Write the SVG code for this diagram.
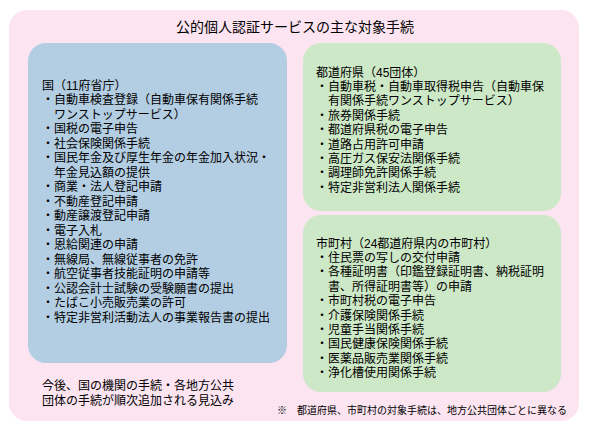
<svg xmlns="http://www.w3.org/2000/svg" width="589" height="432" viewBox="0 0 589 432">
<style>
text{font-family:"Liberation Sans","Noto Sans CJK JP","Noto Sans CJK SC",sans-serif;fill:#000;}
.t{font-size:12px;}
.title{font-size:14px;}
.note{font-size:10px;}
.outer{fill:#FCE4F1;}
.blue{fill:#B3CDE2;}
.green{fill:#CDE8C6;}
</style>
<rect width="589" height="432" fill="#FFFFFF"/>
<g id="outer">
<rect class="outer" x="9" y="10" width="570" height="411" rx="18"/>
<text class="title" x="295" y="32" text-anchor="middle">公的個人認証サービスの主な対象手続</text>
</g>
<g id="kuni">
<rect class="blue" x="28" y="43" width="259" height="320" rx="18"/>
<text class="t" x="42" y="89.5"><tspan x="42" y="89.5">国（11府省庁）</tspan><tspan x="42" dy="14.5">・自動車検査登録（自動車保有関係手続</tspan><tspan x="54" dy="14.5">ワンストップサービス）</tspan><tspan x="42" dy="14.5">・国税の電子申告</tspan><tspan x="42" dy="14.5">・社会保険関係手続</tspan><tspan x="42" dy="14.5">・国民年金及び厚生年金の年金加入状況・</tspan><tspan x="54" dy="14.5">年金見込額の提供</tspan><tspan x="42" dy="14.5">・商業・法人登記申請</tspan><tspan x="42" dy="14.5">・不動産登記申請</tspan><tspan x="42" dy="14.5">・動産譲渡登記申請</tspan><tspan x="42" dy="14.5">・電子入札</tspan><tspan x="42" dy="14.5">・恩給関連の申請</tspan><tspan x="42" dy="14.5">・無線局、無線従事者の免許</tspan><tspan x="42" dy="14.5">・航空従事者技能証明の申請等</tspan><tspan x="42" dy="14.5">・公認会計士試験の受験願書の提出</tspan><tspan x="42" dy="14.5">・たばこ小売販売業の許可</tspan><tspan x="42" dy="14.5">・特定非営利活動法人の事業報告書の提出</tspan></text>
</g>
<g id="todofuken">
<rect class="green" x="303" y="43" width="258" height="168" rx="18"/>
<text class="t" x="316" y="76.5"><tspan x="316" y="76.5">都道府県（45団体）</tspan><tspan x="316" dy="14.4">・自動車税・自動車取得税申告（自動車保</tspan><tspan x="328" dy="14.4">有関係手続ワンストップサービス）</tspan><tspan x="316" dy="14.4">・旅券関係手続</tspan><tspan x="316" dy="14.4">・都道府県税の電子申告</tspan><tspan x="316" dy="14.4">・道路占用許可申請</tspan><tspan x="316" dy="14.4">・高圧ガス保安法関係手続</tspan><tspan x="316" dy="14.4">・調理師免許関係手続</tspan><tspan x="316" dy="14.4">・特定非営利法人関係手続</tspan></text>
</g>
<g id="shichoson">
<rect class="green" x="303" y="215" width="258" height="177" rx="18"/>
<text class="t" x="316" y="247.5"><tspan x="316" y="247.5">市町村（24都道府県内の市町村）</tspan><tspan x="316" dy="14.4">・住民票の写しの交付申請</tspan><tspan x="316" dy="14.4">・各種証明書（印鑑登録証明書、納税証明</tspan><tspan x="328" dy="14.4">書、所得証明書等）の申請</tspan><tspan x="316" dy="14.4">・市町村税の電子申告</tspan><tspan x="316" dy="14.4">・介護保険関係手続</tspan><tspan x="316" dy="14.4">・児童手当関係手続</tspan><tspan x="316" dy="14.4">・国民健康保険関係手続</tspan><tspan x="316" dy="14.4">・医薬品販売業関係手続</tspan><tspan x="316" dy="14.4">・浄化槽使用関係手続</tspan></text>
</g>
<g id="future-note">
<text class="t" x="42" y="389.5"><tspan x="42" y="389.5">今後、国の機関の手続・各地方公共</tspan><tspan x="42" dy="15">団体の手続が順次追加される見込み</tspan></text>
</g>
<g id="footnote">
<text class="note" x="277" y="413.5">※　都道府県、市町村の対象手続は、地方公共団体ごとに異なる</text>
</g>
</svg>
